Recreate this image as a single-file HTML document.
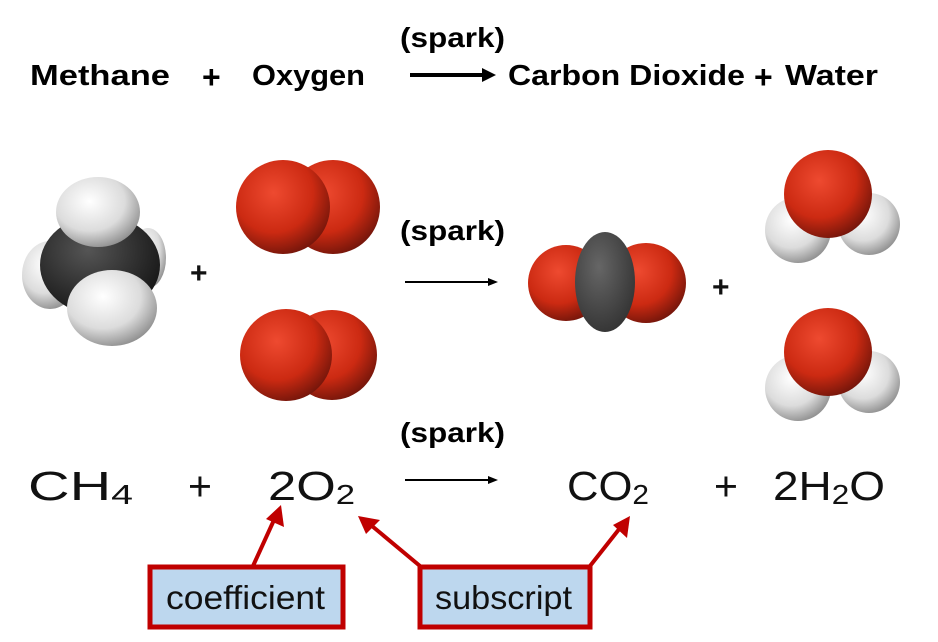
<!DOCTYPE html>
<html><head><style>
body{margin:0;background:#fff}
svg{display:block}
.b{font-family:"Liberation Sans",sans-serif;font-weight:bold;fill:#000}
.n{font-family:"Liberation Sans",sans-serif;fill:#111}
</style></head><body>
<svg width="938" height="642" viewBox="0 0 938 642" xmlns="http://www.w3.org/2000/svg">
<defs>
<radialGradient id="r" cx="0.4" cy="0.35" r="0.7"><stop offset="0" stop-color="#ee4a30"/><stop offset="0.6" stop-color="#cc2a12"/><stop offset="1" stop-color="#6e140a"/></radialGradient>
<radialGradient id="w" cx="0.4" cy="0.35" r="0.7"><stop offset="0" stop-color="#ffffff"/><stop offset="0.6" stop-color="#dcdcdc"/><stop offset="1" stop-color="#8a8a8a"/></radialGradient>
<radialGradient id="k" cx="0.4" cy="0.35" r="0.7"><stop offset="0" stop-color="#555"/><stop offset="1" stop-color="#151515"/></radialGradient>
<radialGradient id="g" cx="0.4" cy="0.35" r="0.7"><stop offset="0" stop-color="#666"/><stop offset="1" stop-color="#333"/></radialGradient>
</defs>
<!-- top line -->
<text class="b" x="400" y="47" font-size="28" textLength="105" lengthAdjust="spacingAndGlyphs">(spark)</text>
<text class="b" x="30" y="85" font-size="29" textLength="140" lengthAdjust="spacingAndGlyphs">Methane</text>
<text class="b" x="202" y="88" font-size="32">+</text>
<text class="b" x="252" y="85" font-size="29" textLength="113" lengthAdjust="spacingAndGlyphs">Oxygen</text>
<line x1="410" y1="75" x2="485" y2="75" stroke="#000" stroke-width="4"/>
<polygon points="482,68 496,75 482,82" fill="#000"/>
<text class="b" x="508" y="85" font-size="29" textLength="237" lengthAdjust="spacingAndGlyphs">Carbon Dioxide</text>
<text class="b" x="754" y="88" font-size="32">+</text>
<text class="b" x="785" y="85" font-size="29" textLength="93" lengthAdjust="spacingAndGlyphs">Water</text>

<!-- methane -->
<ellipse cx="50" cy="275" rx="28" ry="34" fill="url(#w)"/>
<ellipse cx="148" cy="258" rx="18" ry="30" fill="url(#w)"/>
<ellipse cx="100" cy="265" rx="60" ry="50" fill="url(#k)"/>
<ellipse cx="98" cy="212" rx="42" ry="35" fill="url(#w)"/>
<ellipse cx="112" cy="308" rx="45" ry="38" fill="url(#w)"/>
<text class="n" x="190" y="283" font-size="30" font-weight="bold">+</text>

<!-- O2 -->
<circle cx="333" cy="207" r="47" fill="url(#r)"/>
<circle cx="283" cy="207" r="47" fill="url(#r)"/>
<circle cx="332" cy="355" r="45" fill="url(#r)"/>
<circle cx="286" cy="355" r="46" fill="url(#r)"/>

<text class="b" x="400" y="240" font-size="28" textLength="105" lengthAdjust="spacingAndGlyphs">(spark)</text>
<line x1="405" y1="282" x2="490" y2="282" stroke="#000" stroke-width="2"/>
<polygon points="488,278 498,282 488,286" fill="#000"/>

<!-- CO2 -->
<circle cx="566" cy="283" r="38" fill="url(#r)"/>
<circle cx="646" cy="283" r="40" fill="url(#r)"/>
<ellipse cx="605" cy="282" rx="30" ry="50" fill="url(#g)"/>
<text class="n" x="712" y="297" font-size="30" font-weight="bold">+</text>

<!-- water top -->
<circle cx="798" cy="230" r="33" fill="url(#w)"/>
<circle cx="869" cy="224" r="31" fill="url(#w)"/>
<circle cx="828" cy="194" r="44" fill="url(#r)"/>
<!-- water bottom -->
<circle cx="798" cy="388" r="33" fill="url(#w)"/>
<circle cx="869" cy="382" r="31" fill="url(#w)"/>
<circle cx="828" cy="352" r="44" fill="url(#r)"/>

<!-- bottom formula -->
<text class="b" x="400" y="442" font-size="28" textLength="105" lengthAdjust="spacingAndGlyphs">(spark)</text>
<g class="n" font-size="41">
<text x="28" y="500" textLength="105" lengthAdjust="spacingAndGlyphs">CH<tspan font-size="28" dy="4">4</tspan></text>
<text x="188" y="500">+</text>
<text x="268" y="500" textLength="87" lengthAdjust="spacingAndGlyphs">2O<tspan font-size="28" dy="4">2</tspan></text>
<text x="567" y="500" textLength="82" lengthAdjust="spacingAndGlyphs">CO<tspan font-size="28" dy="4">2</tspan></text>
<text x="714" y="500">+</text>
<text x="773" y="500" textLength="112" lengthAdjust="spacingAndGlyphs">2H<tspan font-size="28" dy="4">2</tspan><tspan dy="-4">O</tspan></text>
</g>
<line x1="405" y1="480" x2="490" y2="480" stroke="#000" stroke-width="2"/>
<polygon points="488,476 498,480 488,484" fill="#000"/>

<!-- arrows -->
<g stroke="#c00000" stroke-width="4" fill="#c00000">
<line x1="253" y1="566" x2="274" y2="520"/>
<line x1="420" y1="566" x2="372" y2="526"/>
<line x1="590" y1="566" x2="620" y2="528"/>
</g>
<polygon points="281,505 284,527 266,519" fill="#c00000"/>
<polygon points="358,516 380,520 366,534" fill="#c00000"/>
<polygon points="630,516 627,538 613,525" fill="#c00000"/>

<!-- boxes -->
<rect x="150" y="567" width="193" height="60" fill="#bdd7ee" stroke="#c00000" stroke-width="5"/>
<text class="n" x="166" y="609" font-size="33" textLength="159" lengthAdjust="spacingAndGlyphs">coefficient</text>
<rect x="420" y="567" width="170" height="60" fill="#bdd7ee" stroke="#c00000" stroke-width="5"/>
<text class="n" x="435" y="609" font-size="33" textLength="137" lengthAdjust="spacingAndGlyphs">subscript</text>
</svg>
</body></html>
